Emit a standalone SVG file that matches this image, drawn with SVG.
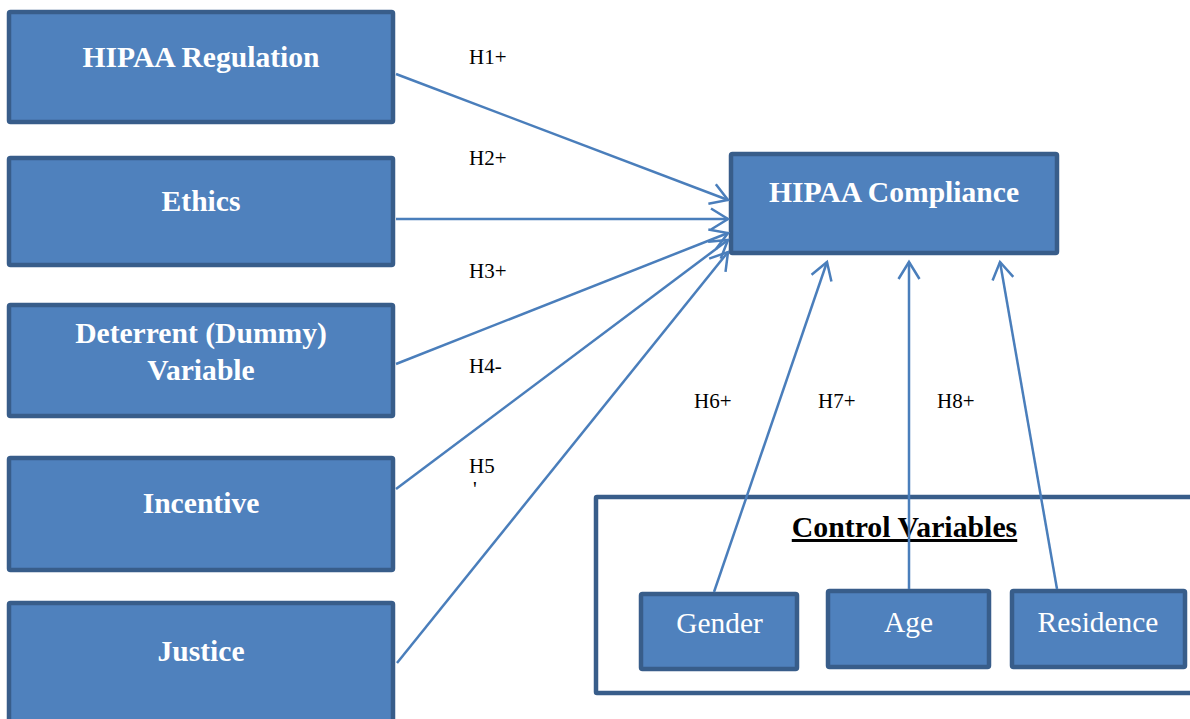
<svg xmlns="http://www.w3.org/2000/svg" width="1190" height="719" viewBox="0 0 1190 719">
<style>
.box{fill:#4F81BD;stroke:#385D8A;stroke-width:4.5}
.frame{fill:#FFFFFF;stroke:#385D8A;stroke-width:4.5}
.bt{font-family:"Liberation Serif",serif;font-weight:bold;font-size:29.6px;fill:#FFFFFF;text-anchor:middle}
.rt{font-family:"Liberation Serif",serif;font-size:29.4px;fill:#FFFFFF;text-anchor:middle}
.lbl{font-family:"Liberation Serif",serif;font-size:21px;fill:#000000}
.conn{stroke:#4A7EBB;stroke-width:2.5;fill:none}
</style>
<defs>
<marker id="arr" markerUnits="userSpaceOnUse" markerWidth="24" markerHeight="26" refX="20" refY="12" orient="auto" viewBox="0 0 24 26">
<path d="M3,1.5 L20,12 L3,22.5" fill="none" stroke="#4A7EBB" stroke-width="2.5"/>
</marker>
</defs>
<rect width="1190" height="719" fill="#FFFFFF"/>

<g id="control-variables">
<rect class="frame" x="596" y="497" width="620" height="196" rx="1"/>
<text x="904.5" y="537" font-family="Liberation Serif,serif" font-weight="bold" font-size="29.8px" fill="#000000" text-anchor="middle" text-decoration="underline">Control Variables</text>
</g>

<g id="hipaa-regulation">
<rect class="box" x="9" y="12" width="384" height="110" rx="1.5"/>
<text class="bt" x="201" y="67">HIPAA Regulation</text>
</g>
<g id="ethics">
<rect class="box" x="9" y="158" width="384" height="107" rx="1.5"/>
<text class="bt" x="201" y="211">Ethics</text>
</g>
<g id="deterrent">
<rect class="box" x="9" y="305" width="384" height="111" rx="1.5"/>
<text class="bt" x="201" y="343">Deterrent (Dummy)</text>
<text class="bt" x="201" y="380">Variable</text>
</g>
<g id="incentive">
<rect class="box" x="9" y="458" width="384" height="112" rx="1.5"/>
<text class="bt" x="201" y="513">Incentive</text>
</g>
<g id="justice">
<rect class="box" x="9" y="603" width="384" height="130" rx="1.5"/>
<text class="bt" x="201" y="661">Justice</text>
</g>
<g id="hipaa-compliance">
<rect class="box" x="731" y="154" width="326" height="99" rx="1.5"/>
<text class="bt" x="894" y="202">HIPAA Compliance</text>
</g>
<g id="gender">
<rect class="box" x="641" y="594" width="156" height="75" rx="1.5"/>
<text class="rt" x="719.5" y="633">Gender</text>
</g>
<g id="age">
<rect class="box" x="828" y="591" width="161" height="76" rx="1.5"/>
<text class="rt" x="908.5" y="632">Age</text>
</g>
<g id="residence">
<rect class="box" x="1012" y="591" width="173" height="76" rx="1.5"/>
<text class="rt" x="1098" y="632">Residence</text>
</g>

<g id="connectors">
<line class="conn" x1="396" y1="74" x2="728" y2="200" marker-end="url(#arr)"/>
<line class="conn" x1="396" y1="219" x2="728" y2="219" marker-end="url(#arr)"/>
<line class="conn" x1="396" y1="364" x2="728" y2="233" marker-end="url(#arr)"/>
<line class="conn" x1="396" y1="489" x2="728" y2="240" marker-end="url(#arr)"/>
<line class="conn" x1="397" y1="663" x2="728" y2="252" marker-end="url(#arr)"/>
<line class="conn" x1="714" y1="592" x2="827" y2="262" marker-end="url(#arr)"/>
<line class="conn" x1="909" y1="589" x2="909" y2="262" marker-end="url(#arr)"/>
<line class="conn" x1="1057" y1="589" x2="1000" y2="262" marker-end="url(#arr)"/>
</g>

<g id="labels">
<text class="lbl" x="469" y="64">H1+</text>
<text class="lbl" x="469" y="165">H2+</text>
<text class="lbl" x="469" y="278">H3+</text>
<text class="lbl" x="469" y="373">H4-</text>
<text class="lbl" x="469" y="473">H5</text>
<text class="lbl" x="473" y="496" font-size="9px">'</text>
<text class="lbl" x="694" y="408">H6+</text>
<text class="lbl" x="818" y="408">H7+</text>
<text class="lbl" x="937" y="408">H8+</text>
</g>
</svg>
